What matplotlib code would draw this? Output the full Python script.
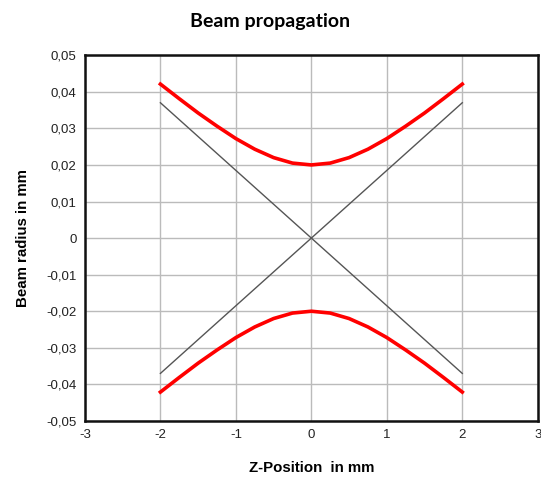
import matplotlib.pyplot as plt

# Beam data (mm)
z_pos = [-2.0, -1.75, -1.5, -1.25, -1.0, -0.75, -0.5, -0.25, 0.0,
         0.25, 0.5, 0.75, 1.0, 1.25, 1.5, 1.75, 2.0]
radius_upper = [0.0421, 0.0381, 0.0342, 0.0306, 0.0272, 0.0243, 0.0220, 0.0205, 0.0200,
                0.0205, 0.0220, 0.0243, 0.0272, 0.0306, 0.0342, 0.0381, 0.0421]
radius_lower = [-0.0421, -0.0381, -0.0342, -0.0306, -0.0272, -0.0243, -0.0220, -0.0205, -0.0200,
                -0.0205, -0.0220, -0.0243, -0.0272, -0.0306, -0.0342, -0.0381, -0.0421]

# far-field asymptotes
asym_z = [-2, 0, 2]
asym_rising = [-0.037, 0, 0.037]
asym_falling = [0.037, 0, -0.037]

x_ticks = [-3, -2, -1, 0, 1, 2, 3]
y_ticks = [-0.05, -0.04, -0.03, -0.02, -0.01, 0, 0.01, 0.02, 0.03, 0.04, 0.05]
y_labels = ["-0,05", "-0,04", "-0,03", "-0,02", "-0,01", "0",
            "0,01", "0,02", "0,03", "0,04", "0,05"]

plt.rcParams['font.family'] = ['Liberation Sans', 'DejaVu Sans']

fig = plt.figure(figsize=(5.41, 4.8), dpi=100)
ax = fig.add_axes([0.157, 0.123, 0.837, 0.762])

ax.plot(asym_z, asym_rising, color='#555555', lw=1.0, zorder=3)
ax.plot(asym_z, asym_falling, color='#555555', lw=1.0, zorder=3)
ax.plot(z_pos, radius_upper, color='#ff0000', lw=2.6, zorder=4, solid_joinstyle='round')
ax.plot(z_pos, radius_lower, color='#ff0000', lw=2.6, zorder=4, solid_joinstyle='round')

ax.set_xlim(-3, 3)
ax.set_ylim(-0.05, 0.05)
ax.set_xticks(x_ticks)
ax.set_xticklabels([str(t) for t in x_ticks])
ax.set_yticks(y_ticks)
ax.set_yticklabels(y_labels)
ax.tick_params(length=0, labelsize=9.5, pad=6, colors='#222222')

ax.grid(True, color='#bbbbbb', lw=1.0)
ax.set_axisbelow(True)
for sp in ax.spines.values():
    sp.set_linewidth(1.8)
    sp.set_color('#111111')

ax.set_xlabel("Z-Position  in mm", fontsize=10.8, fontweight='bold', labelpad=14)
ax.set_ylabel("Beam radius in mm", fontsize=10.8, fontweight='bold', labelpad=12)
fig.text(0.5, 0.955, "Beam propagation", ha='center', va='center',
         fontsize=14, fontweight='bold', family=['Lato', 'DejaVu Sans'])

fig.savefig('out.png', dpi=100)
